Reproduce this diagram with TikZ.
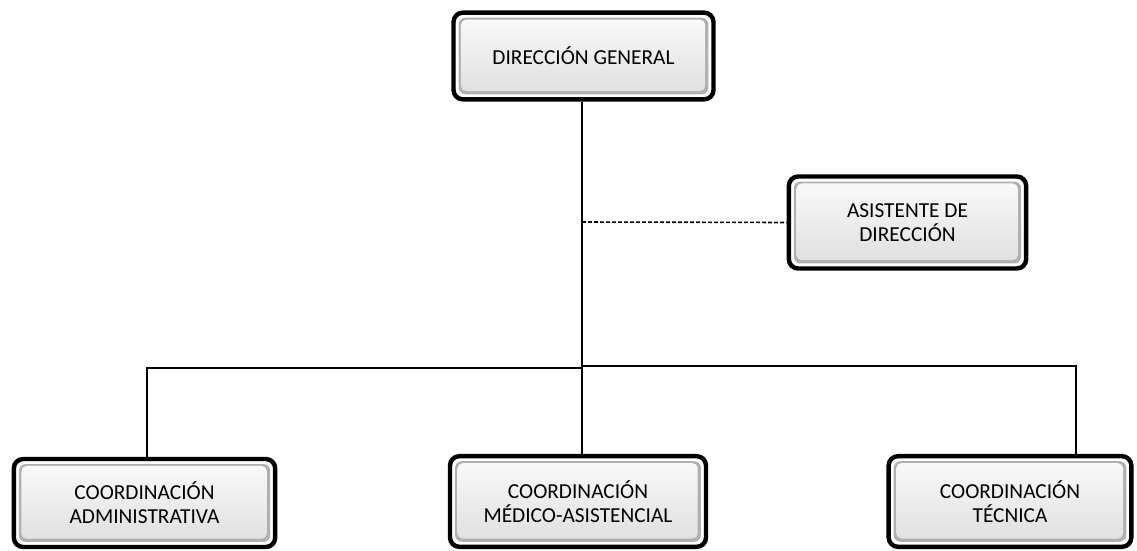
\documentclass[tikz,border=0pt]{standalone}
\usepackage{fontspec}
\setmainfont{Carlito}
\usetikzlibrary{shadows}
\tikzset{
  orgbox/.style={draw=black, line width=3.3pt, rounded corners=7pt, fill=white,
    align=center, font=\fontsize{16}{18}\selectfont, inner sep=0pt,
    general shadow={fill=black!25, shadow xshift=1.2pt, shadow yshift=-1.2pt, opacity=0.5},
    path picture={
      \fill[gray!62, rounded corners=5pt]
        ([shift={(3.8pt,3.8pt)}]path picture bounding box.south west) rectangle
        ([shift={(-3.8pt,-3.8pt)}]path picture bounding box.north east);
      \shade[top color=gray!5, bottom color=gray!24, rounded corners=4pt]
        ([shift={(5.6pt,6.2pt)}]path picture bounding box.south west) rectangle
        ([shift={(-6.2pt,-5.2pt)}]path picture bounding box.north east);
    }},
  trunk/.style={line width=2.1pt},
  branch/.style={line width=1.2pt},
  dashline/.style={line width=1.2pt, dash pattern=on 3pt off 1.5pt}
}
\begin{document}
\begin{tikzpicture}[x=0.75pt,y=-0.75pt]
\useasboundingbox (0,0) rectangle (1137,550);
\node[orgbox, minimum width=195pt, minimum height=65pt] (dg) at (583.5,56) {DIRECCIÓN GENERAL};
\node[orgbox, minimum width=178pt, minimum height=69pt] (asis) at (907.5,222.5) {ASISTENTE DE\\DIRECCIÓN};
\node[orgbox, minimum width=196pt, minimum height=66pt] (adm) at (144.5,503) {COORDINACIÓN\\ADMINISTRATIVA};
\node[orgbox, minimum width=192pt, minimum height=68pt] (med) at (578,501.5) {COORDINACIÓN\\MÉDICO-ASISTENCIAL};
\node[orgbox, minimum width=182pt, minimum height=68pt] (tec) at (1010,501.5) {COORDINACIÓN\\TÉCNICA};
\coordinate (jl) at (582,368);
\coordinate (jr) at (582,366);
\coordinate (jd) at (582,222);
\coordinate (al) at (147,368);
\coordinate (tr) at (1076,366);
\draw[trunk] (dg.south -| jl) -- (jl |- med.north);
\draw[branch] (jl) -- (al) -- (al |- adm.north);
\draw[branch] (jr) -- (tr) -- (tr |- tec.north);
\draw[dashline] (jd) -- (asis.west);
\end{tikzpicture}
\end{document}
